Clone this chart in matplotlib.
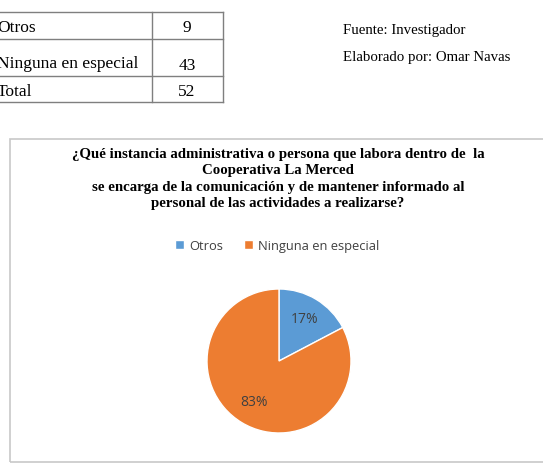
import numpy as np
import matplotlib.pyplot as plt
from matplotlib.lines import Line2D
from matplotlib.patches import Rectangle

# datos
categorias = ["Otros", "Ninguna en especial"]
valores = [9, 43]
filas_tabla = ["Otros", "Ninguna en especial", "Total"]
valores_tabla = [9, 43, 52]
colores = ["#5B9BD5", "#ED7D31"]
titulo = ("¿Qué instancia administrativa o persona que labora dentro de  la\n"
          "Cooperativa La Merced\n"
          "se encarga de la comunicación y de mantener informado al\n"
          "personal de las actividades a realizarse?")

W, H = 543, 469
fig = plt.figure(figsize=(W / 100, H / 100), dpi=100)


def fx(x):
    return x / W


def fy(y):
    return 1 - y / H


def linea(x0, y0, x1, y1, color="#7f7f7f", lw=1.0):
    fig.add_artist(Line2D([fx(x0), fx(x1)], [fy(y0), fy(y1)], color=color, lw=lw))


# tabla superior
for y in [12, 39, 76, 102]:
    linea(-5, y, 223, y)
linea(152, 12, 152, 102)
linea(223, 12, 223, 102)

ys = [28, 64, 92]
ys_num = [28, 66, 92]
for nombre, v, y, yn in zip(filas_tabla, valores_tabla, ys, ys_num):
    fig.text(fx(-3), fy(y), nombre, family="Liberation Serif", fontsize=12.5,
             ha="left", va="center")
    fig.text(fx(187), fy(yn), str(v), family="Liberation Serif", fontsize=12.5,
             ha="center", va="center")

fig.text(fx(343), fy(30), "Fuente: Investigador", family="Liberation Serif",
         fontsize=10.7, ha="left", va="center")
fig.text(fx(343), fy(58), "Elaborado por: Omar Navas", family="Liberation Serif",
         fontsize=10.7, ha="left", va="center")

# marco del grafico
fig.add_artist(Rectangle((fx(9.5), fy(462)), fx(560) - fx(9.5), fy(139) - fy(462),
                         fill=False, edgecolor="#c8c8c8", lw=1.2))

fig.text(fx(278), fy(179), titulo, family="Liberation Serif", fontweight="bold",
         fontsize=10.7, ha="center", va="center", linespacing=1.32)

# pastel
cx, cy, r = 279, 361, 72
ax = fig.add_axes([fx(cx - r), fy(cy + r), 2 * r / W, 2 * r / H])
wedges, _, autotexts = ax.pie(valores, colors=colores, startangle=90, counterclock=False,
                              autopct=lambda p: "%d%%" % round(p), pctdistance=0.68,
                              wedgeprops=dict(edgecolor="white", linewidth=1.0),
                              textprops=dict(family="Open Sans", fontsize=10,
                                             color="#404040"))
ax.set_xlim(-1, 1)
ax.set_ylim(-1, 1)
ax.set_aspect("auto")
ax.axis("off")

fig.legend(wedges, categorias, loc="center", bbox_to_anchor=(fx(277), fy(246)),
           ncol=2, frameon=False, handlelength=0.7, handleheight=0.7,
           handletextpad=0.4, columnspacing=1.6,
           prop=dict(family="Open Sans", size=9.3), labelcolor="#404040")

plt.savefig("out.png", dpi=100)
